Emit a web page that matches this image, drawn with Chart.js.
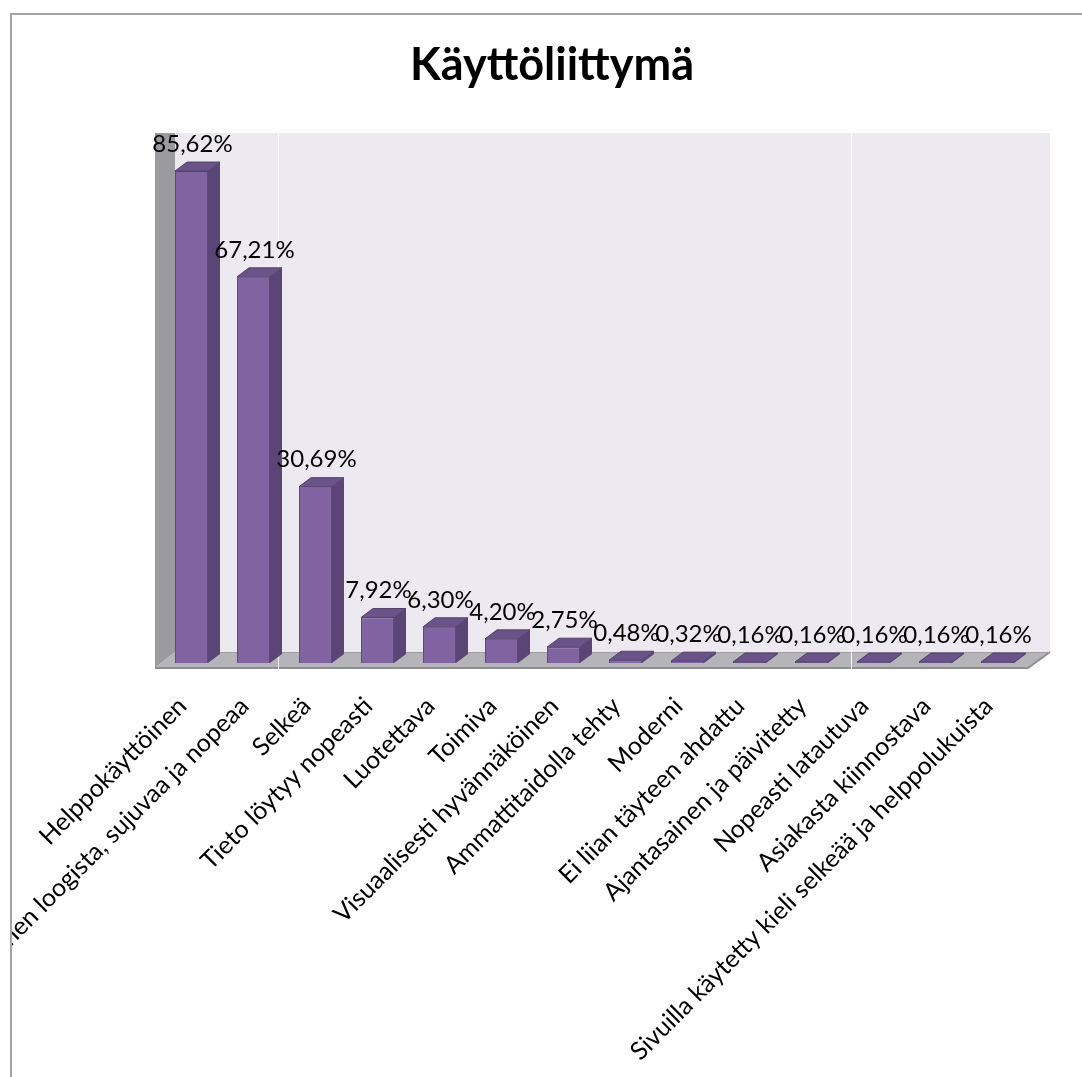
<!DOCTYPE html>
<html>
<head>
<meta charset="utf-8">
<script src="https://cdn.jsdelivr.net/npm/chart.js@4/dist/chart.umd.min.js"></script>
<style>
html,body{margin:0;padding:0;background:#fff;}
canvas{display:block;}
</style>
</head>
<body>
<canvas id="c" width="1082" height="1077"></canvas>
<script>
const chartTitle = "Käyttöliittymä";
const categories = [
  "Helppokäyttöinen",
  "Sivustolla liikkuminen loogista, sujuvaa ja nopeaa",
  "Selkeä",
  "Tieto löytyy nopeasti",
  "Luotettava",
  "Toimiva",
  "Visuaalisesti hyvännäköinen",
  "Ammattitaidolla tehty",
  "Moderni",
  "Ei liian täyteen ahdattu",
  "Ajantasainen ja päivitetty",
  "Nopeasti latautuva",
  "Asiakasta kiinnostava",
  "Sivuilla käytetty kieli selkeää ja helppolukuista"
];
const values = [85.62, 67.21, 30.69, 7.92, 6.30, 4.20, 2.75, 0.48, 0.32, 0.16, 0.16, 0.16, 0.16, 0.16];
const valueLabels = values.map(v => v.toFixed(2).replace('.', ',') + '%');

const FONT = "Lato, 'Open Sans', sans-serif";
const DX = 12, DY = 9; // bar depth

const scene = {
  id: 'scene',
  beforeDraw(chart) {
    const ctx = chart.ctx;
    ctx.save();
    ctx.fillStyle = '#fff';
    ctx.fillRect(0, 0, chart.width, chart.height);
    // outer frame
    ctx.strokeStyle = '#a3a3a3';
    ctx.lineWidth = 2;
    ctx.beginPath();
    ctx.moveTo(11, chart.height);
    ctx.lineTo(11, 14);
    ctx.lineTo(chart.width, 14);
    ctx.stroke();
    // title
    ctx.fillStyle = '#000';
    ctx.font = "bold 45px " + FONT;
    ctx.textAlign = 'center';
    ctx.textBaseline = 'middle';
    ctx.fillText(chartTitle, 552, 65);
    ctx.restore();
  },
  beforeDatasetsDraw(chart) {
    const ctx = chart.ctx;
    const a = chart.chartArea;
    const fl = a.left - 5.5, bl = a.left + 14.5;
    const fr = a.right - 0.5, br = a.right + 21.5;
    const fy = a.bottom + 5, by = a.bottom - 11;
    ctx.save();
    // back wall
    ctx.fillStyle = '#eceaf0';
    ctx.fillRect(bl, a.top, br - bl, by - a.top);
    // left wall
    ctx.fillStyle = '#9b9a9f';
    ctx.beginPath();
    ctx.moveTo(fl, a.top);
    ctx.lineTo(bl, a.top);
    ctx.lineTo(bl, by);
    ctx.lineTo(fl, fy);
    ctx.closePath();
    ctx.fill();
    // floor
    ctx.fillStyle = '#b5b4b9';
    ctx.beginPath();
    ctx.moveTo(fl, fy);
    ctx.lineTo(bl, by);
    ctx.lineTo(br, by);
    ctx.lineTo(fr, fy);
    ctx.closePath();
    ctx.fill();
    ctx.strokeStyle = '#8f8f93';
    ctx.lineWidth = 2;
    ctx.beginPath();
    ctx.moveTo(fl, fy);
    ctx.lineTo(fr, fy);
    ctx.lineTo(br, by);
    ctx.stroke();
    ctx.strokeStyle = '#9d9ca1';
    ctx.lineWidth = 1;
    ctx.beginPath();
    ctx.moveTo(bl, by + 0.5);
    ctx.lineTo(br, by + 0.5);
    ctx.stroke();
    // faint seams
    ctx.strokeStyle = 'rgba(255,255,255,0.9)';
    ctx.beginPath();
    ctx.moveTo(278.5, a.top); ctx.lineTo(278.5, fy + 1);
    ctx.moveTo(851.5, a.top); ctx.lineTo(851.5, fy + 1);
    ctx.stroke();
    ctx.restore();
  },
  afterDatasetsDraw(chart) {
    const ctx = chart.ctx;
    const meta = chart.getDatasetMeta(0);
    ctx.save();
    meta.data.forEach((bar, i) => {
      const l = bar.x - bar.width / 2, r = bar.x + bar.width / 2;
      const t = bar.y, b = bar.base;
      // side
      ctx.fillStyle = '#5a4576';
      ctx.beginPath();
      ctx.moveTo(r, t); ctx.lineTo(r + DX, t - DY); ctx.lineTo(r + DX, b - DY); ctx.lineTo(r, b);
      ctx.closePath(); ctx.fill();
      // top
      ctx.fillStyle = '#6a5389';
      ctx.beginPath();
      ctx.moveTo(l, t); ctx.lineTo(l + DX, t - DY); ctx.lineTo(r + DX, t - DY); ctx.lineTo(r, t);
      ctx.closePath(); ctx.fill();
      ctx.strokeStyle = '#54416e';
      ctx.lineWidth = 1;
      ctx.stroke();
    });
    // value labels
    ctx.fillStyle = '#000';
    ctx.font = "24px " + FONT;
    ctx.textAlign = 'center';
    ctx.textBaseline = 'middle';
    meta.data.forEach((bar, i) => {
      ctx.fillText(valueLabels[i], bar.x + 1, bar.y - 27);
    });
    // category labels
    const xs = chart.scales.x;
    ctx.beginPath();
    ctx.rect(12, 15, chart.width, chart.height);
    ctx.clip();
    ctx.font = "25px " + FONT;
    ctx.textAlign = 'right';
    ctx.textBaseline = 'middle';
    categories.forEach((c, i) => {
      const x = xs.getPixelForValue(i);
      ctx.save();
      ctx.translate(x - 9, 702);
      ctx.rotate(-Math.PI / 4);
      ctx.fillText(c, 0, 0);
      ctx.restore();
    });
    ctx.restore();
  }
};

new Chart(document.getElementById('c'), {
  type: 'bar',
  data: {
    labels: categories,
    datasets: [{
      data: values,
      backgroundColor: '#8064a2',
      borderColor: '#5e4a7d',
      borderWidth: 1,
      categoryPercentage: 1,
      barPercentage: 33 / 62
    }]
  },
  options: {
    responsive: false,
    animation: false,
    layout: { padding: { left: 160.5, right: 53.5, top: 133, bottom: 414 } },
    scales: {
      x: { display: false },
      y: { display: false, min: 0, max: 92.24 }
    },
    plugins: { legend: { display: false }, tooltip: { enabled: false }, title: { display: false } }
  },
  plugins: [scene]
});
</script>
</body>
</html>
